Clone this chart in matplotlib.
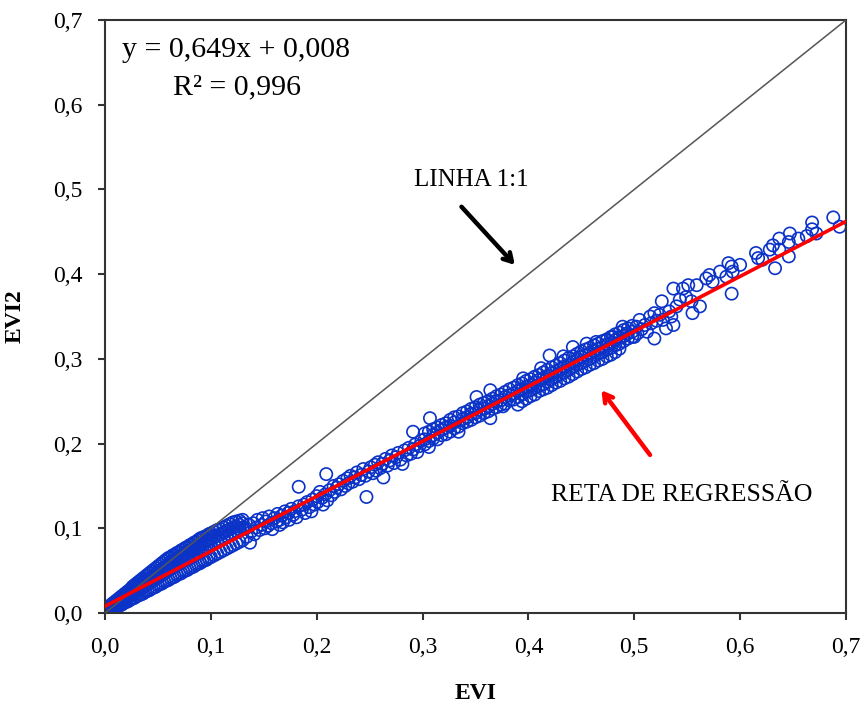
import matplotlib
matplotlib.use("Agg")
import matplotlib.pyplot as plt
from matplotlib.ticker import FuncFormatter
import numpy as np

plt.rcParams['font.family'] = ['Liberation Serif', 'DejaVu Serif']

# values, in thousandths (EVI on x, EVI2 on y)
# dense part near the origin: one EVI column, four EVI2 rows
evi_low = [2, 4, 6, 8, 10, 12, 14, 16, 18, 20, 22, 24, 26, 28, 30, 32, 34, 36, 38, 40,
           42, 44, 46, 48, 50, 52, 54, 56, 58, 60, 62, 64, 66, 68, 70, 72, 74, 76, 78, 80,
           82, 84, 86, 88, 90, 92, 94, 96, 98, 100, 103, 106, 109, 112, 115, 118, 121, 124, 127, 130]
evi2_low_a = [0, 2, 3, 5, 6, 8, 9, 10, 12, 13, 14, 16, 17, 18, 20, 21, 22, 23, 25, 26,
              27, 29, 30, 31, 33, 34, 35, 37, 38, 39, 41, 42, 43, 45, 46, 47, 49, 50, 51, 53,
              54, 55, 57, 58, 59, 61, 62, 63, 65, 66, 68, 70, 72, 74, 76, 78, 80, 82, 84, 86]
evi2_low_b = [3, 5, 6, 8, 10, 11, 13, 14, 16, 17, 19, 21, 23, 24, 26, 28, 29, 31, 33, 34,
              36, 38, 39, 41, 42, 44, 46, 47, 49, 51, 52, 54, 55, 57, 58, 60, 62, 63, 65, 66,
              68, 69, 71, 72, 74, 75, 77, 78, 80, 81, 83, 85, 87, 89, 91, 93, 95, 97, 99, 101]
evi2_low_c = [6, 8, 10, 12, 14, 16, 18, 20, 22, 24, 26, 28, 31, 33, 35, 37, 39, 41, 43, 45,
              47, 49, 51, 53, 55, 57, 59, 61, 63, 65, 66, 68, 69, 71, 72, 74, 75, 77, 78, 80,
              81, 83, 84, 86, 88, 89, 90, 91, 93, 94, 96, 98, 99, 101, 103, 105, 107, 108, 109, 110]
evi2_low_d = [4, 7, 8, 10, 12, 14, 15, 17, 19, 21, 23, 24, 27, 28, 31, 32, 34, 36, 38, 40,
              41, 43, 45, 47, 49, 50, 52, 54, 56, 58, 59, 61, 62, 64, 65, 67, 68, 70, 72, 73,
              74, 76, 77, 79, 81, 82, 84, 85, 86, 88, 90, 91, 93, 95, 97, 99, 101, 102, 104, 106]

# middle part
evi_mid = [133, 134, 136, 137, 138, 140, 141, 143, 144, 146, 148, 149, 151, 152, 154, 155, 157, 158,
           160, 162, 163, 165, 165, 167, 168, 170, 171, 173, 174, 176, 178, 179, 181, 183, 183, 186,
           188, 189, 191, 193, 195, 196, 198, 200, 201, 203, 205, 206, 208, 209, 210, 212, 214, 216,
           217, 219, 221, 223, 225, 227, 229, 230, 232, 234, 236, 238, 240, 242, 244, 246, 247, 249,
           251, 253, 255, 256, 258, 260, 262, 263, 265, 267, 269, 271, 273, 275, 277, 279, 281, 283,
           285, 287, 289, 291, 293, 295, 297, 299]
evi2_mid = [100, 90, 104, 83, 96, 106, 93, 101, 110, 98, 104, 112, 100, 108, 103, 114, 106, 99,
            112, 108, 117, 104, 110, 115, 107, 120, 113, 118, 110, 123, 116, 120, 113, 126, 149, 122,
            128, 118, 131, 125, 120, 134, 128, 138, 131, 143, 136, 128, 140, 164, 133, 145, 139, 150,
            143, 148, 152, 146, 156, 150, 159, 153, 162, 155, 160, 166, 158, 163, 170, 162, 137, 167,
            172, 165, 175, 168, 178, 171, 176, 160, 182, 174, 180, 186, 177, 184, 189, 181, 176, 192,
            186, 195, 188, 193, 199, 190, 197, 204]

# upper band: one EVI column, three EVI2 rows
evi_up = [302, 306, 310, 314, 318, 322, 326, 330, 334, 338, 342, 346, 350, 354, 358, 362, 366,
          370, 374, 378, 382, 386, 390, 394, 398, 402, 406, 410, 414, 418, 422, 426, 430, 434,
          438, 442, 446, 450, 454, 458, 462, 466, 470, 474, 478, 482, 486, 490, 494, 498]
evi2_up_a = [212, 214, 217, 205, 222, 211, 228, 218, 232, 236, 226, 241, 231, 246, 236, 250, 241,
             256, 246, 261, 251, 266, 255, 271, 261, 276, 266, 281, 270, 287, 276, 292, 282, 298,
             287, 303, 293, 309, 298, 313, 303, 318, 308, 323, 313, 329, 318, 334, 324, 339]
evi2_up_b = [199, 203, 206, 219, 210, 224, 214, 231, 220, 224, 238, 228, 243, 233, 248, 238, 253,
             243, 258, 247, 264, 252, 269, 258, 274, 263, 279, 268, 284, 273, 290, 279, 295, 284,
             301, 290, 306, 295, 311, 300, 316, 306, 321, 311, 326, 316, 331, 321, 336, 326]
evi2_up_c = [205, 196, 210, 213, 216, 219, 221, 225, 214, 229, 231, 235, 236, 240, 241, 244, 247,
             250, 251, 255, 257, 259, 262, 264, 267, 269, 272, 275, 277, 280, 283, 285, 288, 291,
             293, 296, 299, 302, 304, 307, 309, 312, 314, 317, 319, 322, 325, 327, 330, 332]
evi_lowside = [390, 394, 398, 402, 406, 410, 414, 418, 422, 426, 430, 434, 438, 442, 446, 450,
               454, 458, 462, 466, 470, 474, 478, 482, 486, 364, 420,
               291, 307, 351, 364, 376, 395, 412, 433]
evi2_lowside = [246, 250, 253, 256, 258, 262, 264, 266, 269, 272, 274, 277, 279, 282, 285, 288,
                290, 293, 295, 298, 300, 303, 305, 308, 312, 230, 304,
                214, 230, 255, 263, 244, 277, 289, 303]

# sparse top end
evi_top = [442, 455, 464, 474, 480, 489, 493, 500, 502, 503, 505, 507, 510, 512, 515, 516, 519,
           519, 521, 524, 526, 527, 530, 533, 535, 537, 537, 540, 543, 546, 549, 551, 554, 555,
           559, 562, 568, 571, 574, 581, 587, 589, 592, 592, 593, 600, 615, 617, 621, 628, 631,
           633, 637, 637, 646, 646, 647, 655, 663, 668, 668, 672, 688, 694]
evi2_top = [314, 318, 320, 322, 326, 338, 330, 326, 338, 330, 346, 335, 340, 332, 350, 342, 324,
            354, 345, 352, 368, 346, 336, 356, 350, 383, 340, 362, 370, 383, 373, 387, 368, 354,
            387, 362, 395, 399, 391, 403, 397, 413, 409, 377, 403, 411, 425, 419, 417, 429, 434,
            407, 442, 429, 438, 421, 448, 442, 445, 461, 453, 448, 467, 456]

slope = 0.649
intercept = 0.008
r2 = 0.996

evi = np.array(evi_low * 4 + evi_mid + evi_up * 3 + evi_lowside + evi_top) / 1000
evi2 = np.array(evi2_low_a + evi2_low_b + evi2_low_c + evi2_low_d + evi2_mid
                + evi2_up_a + evi2_up_b + evi2_up_c + evi2_lowside + evi2_top) / 1000

fig = plt.figure(figsize=(8.62, 7.18), dpi=100)
ax = fig.add_axes([0.1218, 0.1462, 0.8596, 0.8259])

ax.scatter(evi, evi2, s=78, facecolors='none', edgecolors='#0b33c8', linewidths=1.2, zorder=2)
ax.plot([0, 0.7], [0, 0.7], color='#555555', lw=1.1, zorder=3)
xs = np.array([0, 0.7])
ax.plot(xs, slope * xs + intercept, color='#ff0000', lw=2.6, zorder=4)

ax.set_xlim(0, 0.7)
ax.set_ylim(0, 0.7)
ticks = np.arange(0, 0.71, 0.1)
ax.set_xticks(ticks)
ax.set_yticks(ticks)
fmt = FuncFormatter(lambda v, p: f"{v:.1f}".replace('.', ','))
ax.xaxis.set_major_formatter(fmt)
ax.yaxis.set_major_formatter(fmt)
ax.tick_params(direction='out', length=5, width=1.5, color='#333333',
               labelsize=17, top=False, right=False)
ax.tick_params(axis='x', pad=12)
ax.tick_params(axis='y', pad=11)
for s in ax.spines.values():
    s.set_linewidth(1.5)
    s.set_color('#333333')

ax.set_xlabel('EVI', fontsize=17, fontweight='bold', labelpad=18)
ax.set_ylabel('EVI2', fontsize=17, fontweight='bold', labelpad=20)

ax.text(0.016, 0.665, 'y = 0,649x + 0,008', fontsize=21.5, va='center', ha='left')
ax.text(0.064, 0.621, 'R² = 0,996', fontsize=21.5, va='center', ha='left')

ax.text(0.3456, 0.511, 'LINHA 1:1', fontsize=18, ha='center', va='center')
ax.annotate('', xy=(0.389, 0.4085), xytext=(0.335, 0.482),
            arrowprops=dict(arrowstyle='->,head_length=0.6,head_width=0.35', color='black', lw=3.2))
ax.text(0.545, 0.139, 'RETA DE REGRESSÃO', fontsize=18.5, ha='center', va='center')
ax.annotate('', xy=(0.4674, 0.2656), xytext=(0.5165, 0.184),
            arrowprops=dict(arrowstyle='->,head_length=0.6,head_width=0.35', color='#ff0000', lw=3.2))

fig.savefig('out.png', dpi=100)
